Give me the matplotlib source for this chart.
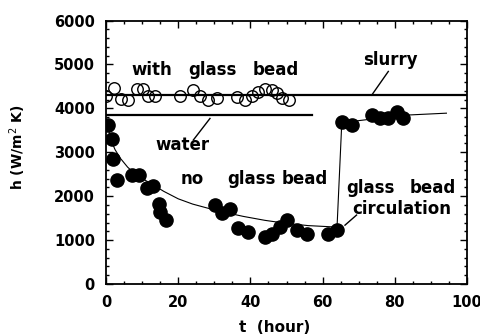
import matplotlib
matplotlib.use("Agg")
import matplotlib.pyplot as plt
from matplotlib.ticker import MultipleLocator

# ---- data ----
with_bead_t = [0, 2.2, 4.2, 6.1, 8.6, 10.2, 11.6, 13.6, 20.5, 24.1, 26.0, 28.3, 30.7,
               36.4, 38.5, 40.4, 42.2, 44.0, 45.9, 47.3, 48.7, 50.8]
with_bead_h = [4290, 4460, 4215, 4190, 4430, 4430, 4270, 4270, 4270, 4420, 4270, 4190, 4230,
               4260, 4180, 4270, 4380, 4430, 4420, 4360, 4230, 4190]

no_bead_t = [0.6, 1.6, 2.0, 3.1, 7.1, 9.2, 11.3, 13.1, 14.8, 15.0, 16.5,
             30.2, 32.0, 34.3, 36.6, 39.4, 44.0, 45.9, 48.2, 50.0, 52.8, 55.6, 61.6, 63.9]
no_bead_h = [3620, 3300, 2840, 2370, 2480, 2480, 2180, 2230, 1830, 1650, 1460,
             1800, 1610, 1700, 1270, 1190, 1080, 1150, 1300, 1460, 1230, 1150, 1140, 1230]

circ_t = [65.3, 68.1, 73.6, 75.9, 78.2, 80.5, 82.4]
circ_h = [3700, 3620, 3850, 3770, 3770, 3920, 3770]

fit_t = [0.6, 1.5, 2.5, 4.0, 6.0, 8.0, 10.5, 13.0, 16.0, 20.0, 24.0, 28.5, 33.0, 38.0,
         44.0, 50.0, 56.0, 63.0, 64.0, 65.3, 70.0, 77.0, 84.2, 94.3]
fit_h = [3550, 3250, 3060, 2860, 2660, 2510, 2380, 2260, 2110, 1940, 1820, 1720, 1630, 1540,
         1450, 1380, 1330, 1300, 1300, 3650, 3720, 3790, 3850, 3890]

slurry_t = [0, 100]
slurry_h = [4300, 4300]
water_t = [0, 57]
water_h = [3850, 3850]

fig = plt.figure(figsize=(4.81, 3.35), dpi=100)
ax = fig.add_axes([0.2204, 0.1522, 0.7505, 0.7866])

ax.plot(slurry_t, slurry_h, color="black", lw=1.6, zorder=2)
ax.plot(water_t, water_h, color="black", lw=1.6, zorder=2)
ax.plot(fit_t, fit_h, color="black", lw=0.8, zorder=2)
ax.plot(with_bead_t, with_bead_h, "o", mfc="none", mec="black", ms=8.3, mew=1.0, zorder=3)
ax.plot(no_bead_t, no_bead_h, "o", color="black", ms=9.5, zorder=3)
ax.plot(circ_t, circ_h, "o", color="black", ms=9.5, zorder=3)

# leader lines
ax.plot([78.2, 73.6], [4840, 4300], color="black", lw=1.0)
ax.plot([28.8, 24.2], [3770, 3280], color="black", lw=1.0)
ax.plot([69.4, 66.2], [1570, 1340], color="black", lw=1.0)

tkw = dict(fontsize=12, fontweight="bold", ha="center", va="center")
ax.text(12.8, 4875, "with", **tkw)
ax.text(29.6, 4875, "glass", **tkw)
ax.text(47.1, 4875, "bead", **tkw)
ax.text(78.7, 5100, "slurry", **tkw)
ax.text(21.2, 3170, "water", **tkw)
ax.text(24.0, 2390, "no", **tkw)
ax.text(40.2, 2390, "glass", **tkw)
ax.text(55.1, 2390, "bead", **tkw)
ax.text(73.3, 2190, "glass", **tkw)
ax.text(90.4, 2190, "bead", **tkw)
ax.text(81.9, 1710, "circulation", **tkw)

ax.set_xlim(0, 100)
ax.set_ylim(0, 6000)
ax.set_xticks([0, 20, 40, 60, 80, 100])
ax.set_yticks([0, 1000, 2000, 3000, 4000, 5000, 6000])
ax.xaxis.set_minor_locator(MultipleLocator(5))
ax.yaxis.set_minor_locator(MultipleLocator(200))
ax.tick_params(which="both", direction="in", top=True, right=True, width=1.0)
ax.tick_params(which="major", length=5, pad=8, labelsize=10.5)
ax.tick_params(which="minor", length=2.5)
for lab in ax.get_xticklabels() + ax.get_yticklabels():
    lab.set_fontweight("bold")
for s in ax.spines.values():
    s.set_linewidth(1.3)

ax.set_xlabel("t  (hour)", fontsize=11, fontweight="bold")
ax.set_ylabel("h (W/m$^2$ K)", fontsize=10, fontweight="bold")
ax.xaxis.set_label_coords(0.468, -0.135)
ax.yaxis.set_label_coords(-0.215, 0.52)

fig.savefig("out.png", dpi=100)
